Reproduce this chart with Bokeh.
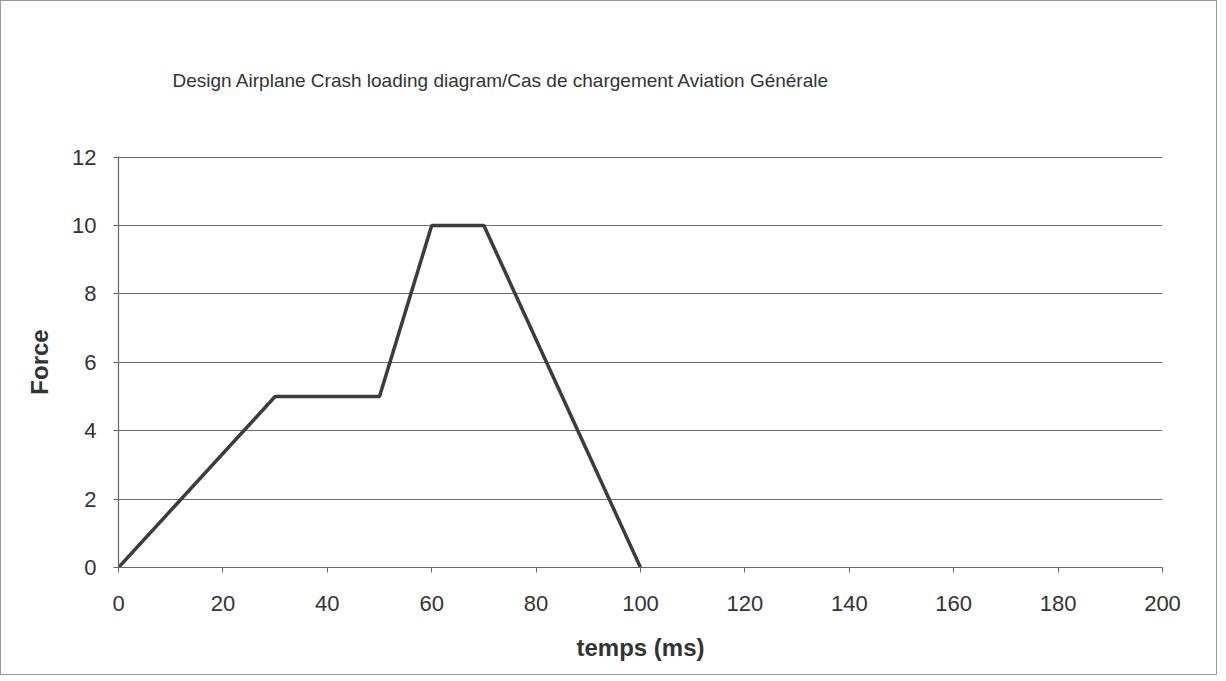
from bokeh.plotting import figure
from bokeh.models import Range1d, FixedTicker, Title
from bokeh.embed import file_html
from bokeh.resources import INLINE

temps = [0, 30, 50, 60, 70, 100]
force = [0, 5, 5, 10, 10, 0]
x_ticks = [0, 20, 40, 60, 80, 100, 120, 140, 160, 180, 200]
y_ticks = [0, 2, 4, 6, 8, 10, 12]
title_text = "Design Airplane Crash loading diagram/Cas de chargement Aviation Générale"

FONT = "Liberation Sans"

p = figure(width=1217, height=675, output_backend="svg", toolbar_location=None,
           x_range=Range1d(0, 200), y_range=Range1d(0, 12.02),
           min_border_left=117, min_border_right=56, min_border_top=124, min_border_bottom=109)
p.styles = {"border": "1px solid #999999"}
p.outline_line_color = None
p.background_fill_color = "white"
p.border_fill_color = "white"

t = Title(text=title_text, align="left", offset=54, standoff=132,
          text_font=FONT, text_font_size="19px", text_font_style="normal", text_color="#333333")
p.add_layout(t, "above")

p.line(temps, force, line_color="#3c3c3c", line_width=3.5)

p.xgrid.grid_line_color = None
p.ygrid.grid_line_color = "#6e6e6e"
p.ygrid.grid_line_width = 1.2
p.ygrid.ticker = FixedTicker(ticks=y_ticks)

p.xaxis.ticker = FixedTicker(ticks=x_ticks)
p.yaxis.ticker = FixedTicker(ticks=y_ticks)
for ax in (p.xaxis, p.yaxis):
    ax.axis_line_color = "#666666"
    ax.axis_line_width = 1.2
    ax.major_tick_line_color = "#666666"
    ax.major_tick_out = 5
    ax.major_tick_in = 0
    ax.minor_tick_line_color = None
    ax.major_label_text_font = FONT
    ax.major_label_text_font_size = "22px"
    ax.major_label_text_color = "#333333"
    ax.axis_label_text_font = FONT
    ax.axis_label_text_font_size = "24px"
    ax.axis_label_text_font_style = "bold"
    ax.axis_label_text_color = "#333333"

p.xaxis.axis_label = "temps (ms)"
p.yaxis.axis_label = "Force"
p.xaxis.major_label_standoff = 23
p.xaxis.axis_label_standoff = 20
p.yaxis.major_label_standoff = 17
p.yaxis.axis_label_standoff = 16

open("out.html", "w").write(file_html(p, INLINE))
